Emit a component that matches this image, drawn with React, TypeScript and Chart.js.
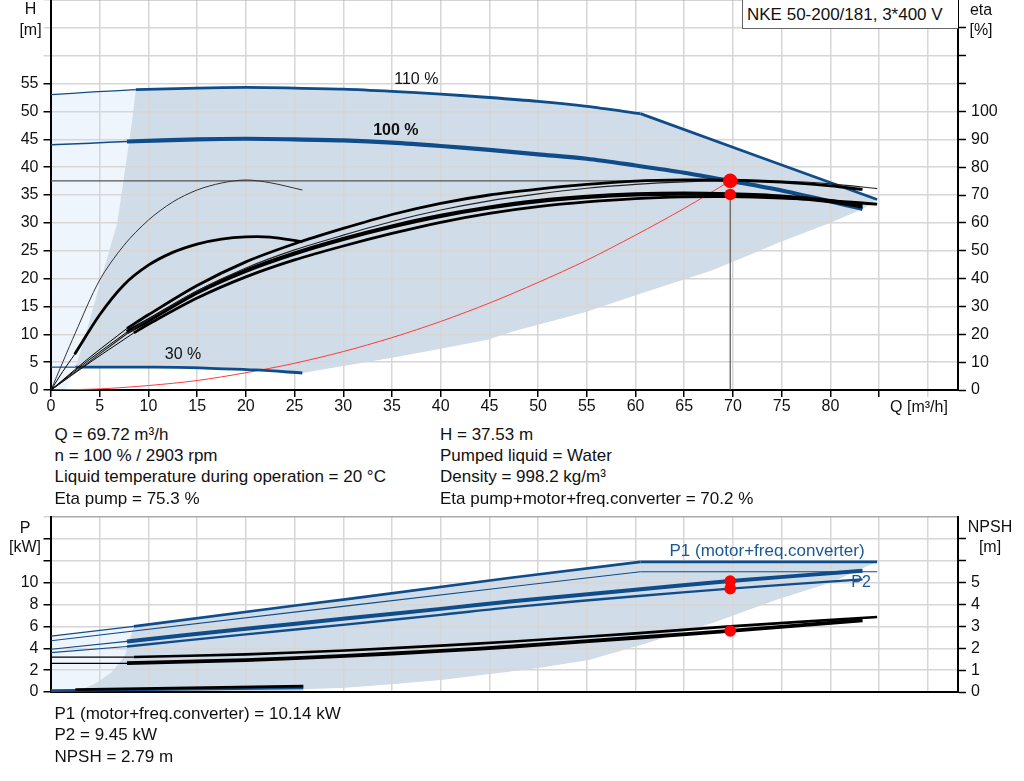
import React, { useEffect, useRef } from 'react';
import { Chart, registerables } from 'chart.js';

Chart.register(...registerables);

const FONT = "'Liberation Sans', Arial, Helvetica, sans-serif";
const BLUE = '#0f4c8a';
const TXT_BLUE = '#1a5793';
const GRID = '#d6d6d6';
const EDGE = '#a9a9a9';
const FILL_DARK = '#d0dce8';
const FILL_LIGHT = '#eef5fc';
const OP_LINE = '#555555';
const RED = '#ff0000';

// ---------- axes ----------
const Q_MAX = 93.1;
const Q_TICKS = [0, 5, 10, 15, 20, 25, 30, 35, 40, 45, 50, 55, 60, 65, 70, 75, 80, 85, 90];
const H_TICKS = [0, 5, 10, 15, 20, 25, 30, 35, 40, 45, 50, 55, 60, 65, 70];
const ETA_TICKS = [0, 10, 20, 30, 40, 50, 60, 70, 80, 90, 100, 110, 120, 130];
const P_TICKS = [0, 2, 4, 6, 8, 10, 12, 14, 16];
const NPSH_TICKS = [0, 1, 2, 3, 4, 5, 6, 7];

// ---------- operating point ----------
const OP_Q = 69.72;
const OP_H = 37.53;
const OP_ETA_TOT = 70.2;
const OP_P1 = 10.14;
const OP_P2 = 9.45;
const OP_NPSH = 2.79;

// ---------- head curves (Q m³/h, H m) ----------
const Q_H110_THIN = [0, 4.3, 8.7];
const H_H110_THIN = [53.0, 53.5, 53.9];
const Q_H110 = [8.7, 15, 20, 25, 30, 35, 40, 45, 50, 55, 60.5];
const H_H110 = [53.9, 54.2, 54.3, 54.2, 54.0, 53.6, 53.1, 52.5, 51.8, 50.9, 49.6];
const Q_PMAX = [60.5, 72.6, 84.8];
const H_PMAX = [49.6, 41.9, 34.2];
const Q_H100_THIN = [0, 4, 7.8];
const H_H100_THIN = [44.0, 44.3, 44.6];
const Q_H100 = [7.8, 15, 20, 25, 30, 35, 40, 45, 50, 55, 60, 65, 69.72, 75, 83.3];
const H_H100 = [44.6, 45.0, 45.1, 45.0, 44.8, 44.4, 43.8, 43.1, 42.3, 41.5, 40.3, 39.0, 37.53, 35.8, 32.5];
const Q_H30_THIN = [0, 2.5];
const H_H30_THIN = [4.1, 4.1];
const Q_H30 = [2.5, 8, 13, 17, 21, 25.8];
const H_H30 = [4.1, 4.1, 4.05, 3.85, 3.6, 3.05];

// system curve
const Q_SYS = [0, 5, 10, 15, 20, 25, 30, 35, 40, 45, 50, 55, 60, 65, 69.72];
const H_SYS = [0, 0.2, 0.8, 1.7, 3.1, 4.8, 6.9, 9.4, 12.3, 15.6, 19.3, 23.3, 27.8, 32.6, 37.53];

// operating range boundaries (head chart)
const Q_RANGE_LEFT = [2.5, 3.5, 5.4, 6.8, 7.8, 8.3, 8.7];
const H_RANGE_LEFT = [4.1, 9.6, 21.5, 30, 42, 48, 53.9];
const Q_RANGE_LOW = [83.3, 80, 74.8, 67.9, 60, 54.9, 47.4, 44.8, 40, 35, 30, 25.8];
const H_RANGE_LOW = [32.5, 30, 26.5, 21.5, 17, 14, 10.5, 9.0, 7.4, 5.8, 4.3, 3.05];

// ---------- efficiency curves (Q m³/h, eta %) ----------
const Q_ETA_P30 = [0, 2.5, 5, 7.5, 10, 12.5, 15, 17.5, 20, 22.5, 25.8];
const ETA_P30 = [0, 20.5, 39.5, 52, 61, 67.5, 71.8, 74.3, 75.4, 74.4, 71.8];
const Q_ETA_T30_THIN = [0, 1.2, 2.43];
const ETA_T30_THIN = [0, 6.6, 12.8];
const Q_ETA_T30 = [2.43, 5, 7.5, 10, 12.5, 15, 17.5, 20, 22.5, 25.8];
const ETA_T30 = [12.8, 27, 37.8, 44.8, 49.4, 52.4, 54.2, 55, 54.9, 53.2];

const Q_ETA_P100_THIN = [0, 3.9, 7.8];
const ETA_P100_THIN = [0, 11.5, 22.1];
const Q_ETA_P100 = [7.8, 10, 15, 20, 25, 30, 35, 40, 45, 50, 55, 60, 65, 69.72, 75, 80, 83.3];
const ETA_P100 = [22.1, 27, 37.5, 46, 52.5, 58, 63, 67, 70, 72.1, 73.8, 75.0, 75.4, 75.3, 74.6, 73.3, 72.0];

const Q_ETA_P110 = [0, 4.25, 8.5, 10, 15, 20, 25, 30, 35, 40, 45, 50, 55, 60, 65, 69.72, 75, 80, 84.8];
const ETA_P110 = [0, 11, 22, 25.3, 35.5, 43.8, 50.3, 55.6, 60.5, 64.6, 67.9, 70.4, 72.4, 73.8, 74.7, 75.1, 75.0, 74.0, 72.3];

const Q_ETA_T100_THIN = [0, 3.9, 7.8];
const ETA_T100_THIN = [0, 10.8, 20.8];
const Q_ETA_T100 = [7.8, 10, 15, 20, 25, 30, 35, 40, 45, 50, 55, 60, 65, 69.72, 75, 80, 83.3];
const ETA_T100 = [20.8, 25, 35, 42.8, 49, 54.2, 58.7, 62.5, 65.5, 67.8, 69.3, 70.2, 70.5, 70.2, 69.4, 67.8, 65.9];

const Q_ETA_T110_THIN = [0, 4.25, 8.5];
const ETA_T110_THIN = [0, 10.5, 20.5];
const Q_ETA_T110 = [8.5, 10, 15, 20, 25, 30, 35, 40, 45, 50, 55, 60, 65, 69.72, 75, 80, 84.8];
const ETA_T110 = [20.5, 23.6, 33, 40.6, 46.7, 51.7, 56.2, 60.2, 63.4, 65.8, 67.5, 68.7, 69.3, 69.4, 68.9, 68.0, 66.7];

// ---------- power curves (Q m³/h, P kW) ----------
const Q_P1_110_THIN = [0, 8.5];
const P1_110_THIN = [5.1, 6.0];
const Q_P1_110 = [8.5, 25.1, 30.2, 47.4, 60.5];
const P1_110 = [6.0, 7.91, 8.47, 10.47, 11.9];
const Q_P1_MAX = [60.5, 84.8];
const P1_MAX = [11.9, 11.9];
const Q_P2_110 = [0, 30.2, 47.4, 60.5];
const P2_110 = [4.68, 7.85, 9.64, 11.0];
const Q_P2_MAX = [60.5, 84.8];
const P2_MAX = [11.0, 11.0];
const Q_P1_100_THIN = [0, 7.8];
const P1_100_THIN = [3.91, 4.62];
const Q_P1_100 = [7.8, 20, 30.2, 40, 47.4, 60, 69.72, 83.3];
const P1_100 = [4.62, 5.78, 6.71, 7.6, 8.3, 9.35, 10.14, 11.08];
const Q_P2_100_THIN = [0, 7.8];
const P2_100_THIN = [3.6, 4.16];
const Q_P2_100 = [7.8, 20, 30.2, 40, 47.4, 60, 69.72, 83.3];
const P2_100 = [4.16, 5.27, 6.16, 7.05, 7.76, 8.75, 9.45, 10.3];
const Q_P1_30 = [0, 2.5, 25.9];
const P1_30 = [0.12, 0.15, 0.38];

// NPSH curves (Q m³/h, NPSH m)
const Q_NPSH110_THIN = [0, 8.5];
const NPSH110_THIN = [1.59, 1.59];
const Q_NPSH110 = [8.5, 20, 30.2, 40, 47.4, 60, 69.72, 84.8];
const NPSH110 = [1.6, 1.72, 1.9, 2.12, 2.31, 2.68, 3.0, 3.43];
const Q_NPSH100_THIN = [0, 7.8];
const NPSH100_THIN = [1.31, 1.31];
const Q_NPSH100 = [7.8, 20, 30.2, 40, 47.4, 60, 69.72, 83.3];
const NPSH100 = [1.32, 1.46, 1.65, 1.88, 2.08, 2.48, 2.79, 3.28];
const Q_NPSH30 = [2.5, 25.9];
const NPSH30 = [0.11, 0.27];

// operating range boundaries (power chart)
const Q_PRANGE_LEFT = [2.5, 4.55, 6.25, 7.6, 8.1, 8.5];
const P_PRANGE_LEFT = [0, 0.77, 1.83, 3.37, 4.9, 6.0];
const Q_PRANGE_LOW = [80, 74.7, 67.9, 60, 55.2, 50, 47.4, 40, 35, 30.2, 25.9, 25.9];
const P_PRANGE_LOW = [10.0, 8.5, 6.3, 4.15, 2.93, 2.2, 1.9, 1.1, 0.7, 0.4, 0.25, 0];

// ---------- in-plot labels ----------
const TOP_LABELS = [
  { text: '110 %', q: 37.5, v: 55.7, axis: 'y', bold: false, size: 16, color: '#111' },
  { text: '100 %', q: 35.4, v: 46.5, axis: 'y', bold: true, size: 16, color: '#111' },
  { text: '30 %', q: 13.55, v: 6.3, axis: 'y', bold: false, size: 16, color: '#111' },
];
const BOTTOM_LABELS = [
  { text: 'P1 (motor+freq.converter)', q: 73.5, v: 12.85, axis: 'y', bold: false, size: 17, color: TXT_BLUE },
  { text: 'P2', q: 83.15, v: 10.0, axis: 'y', bold: false, size: 16, color: TXT_BLUE },
];

const INFO_LEFT = ['Q = 69.72 m³/h', 'n = 100 % / 2903 rpm', 'Liquid temperature during operation = 20 °C', 'Eta pump = 75.3 %'];
const INFO_RIGHT = ['H = 37.53 m', 'Pumped liquid = Water', 'Density = 998.2 kg/m³', 'Eta pump+motor+freq.converter = 70.2 %'];
const INFO_BOTTOM = ['P1 (motor+freq.converter) = 10.14 kW', 'P2 = 9.45 kW', 'NPSH = 2.79 m'];
const TITLE = 'NKE 50-200/181, 3*400 V';

// ---------- helpers ----------
const pts = (xs: number[], ys: number[]) => xs.map((x, i) => ({ x, y: ys[i] }));
const rev = <T,>(a: T[]) => a.slice().reverse();

function curve(xs: number[], ys: number[], color: string, width: number, axis = 'y', smooth = true) {
  return {
    data: pts(xs, ys),
    yAxisID: axis,
    borderColor: color,
    borderWidth: width,
    pointRadius: 0,
    pointHoverRadius: 0,
    fill: false,
    tension: smooth ? 0.3 : 0,
    borderCapStyle: 'butt',
  };
}

function area(xs: number[], ys: number[], color: string, axis = 'y') {
  return {
    data: pts(xs, ys),
    yAxisID: axis,
    borderColor: 'transparent',
    borderWidth: 0,
    backgroundColor: color,
    pointRadius: 0,
    pointHoverRadius: 0,
    fill: 'shape',
    tension: 0,
  };
}

function dot(q: number, v: number, r: number, axis = 'y') {
  return {
    data: [{ x: q, y: v }],
    yAxisID: axis,
    showLine: false,
    pointRadius: r,
    pointHoverRadius: r,
    pointBackgroundColor: RED,
    pointBorderColor: RED,
    pointBorderWidth: 0,
    borderColor: RED,
  };
}

function labelsPlugin(labels: any[]) {
  return {
    id: 'inlineLabels',
    afterDatasetsDraw(chart: any) {
      const { ctx, scales } = chart;
      ctx.save();
      for (const l of labels) {
        ctx.font = `${l.bold ? 'bold ' : ''}${l.size}px ${FONT}`;
        ctx.fillStyle = l.color;
        ctx.textAlign = 'center';
        ctx.textBaseline = 'middle';
        ctx.fillText(l.text, scales.x.getPixelForValue(l.q), scales[l.axis].getPixelForValue(l.v));
      }
      ctx.restore();
    },
  };
}

function withOrder(list: any[]) {
  return list.map((d, i) => ({ ...d, order: list.length - i }));
}

function xAxis(showLabels: boolean, height: number) {
  return {
    type: 'linear',
    min: 0,
    max: Q_MAX,
    afterBuildTicks: (s: any) => { s.ticks = Q_TICKS.map((v) => ({ value: v })); },
    afterFit: (s: any) => { s.height = height; s.paddingLeft = 0; s.paddingRight = 0; },
    grid: {
      color: GRID,
      lineWidth: 1.5,
      drawTicks: showLabels,
      tickLength: 7,
      tickWidth: 1.5,
      tickColor: (c: any) => (c.tick && c.tick.value >= 90 ? GRID : '#000'),
    },
    border: { display: true, color: '#000', width: 2 },
    ticks: {
      display: showLabels,
      autoSkip: false,
      maxRotation: 0,
      padding: 0,
      color: '#111',
      font: { size: 16, family: FONT },
      callback: (v: number) => (v <= 80 ? String(v) : ''),
    },
  };
}

function leftAxis(max: number, ticks: number[], labelMax: number, blackMax: number) {
  return {
    type: 'linear',
    position: 'left',
    min: 0,
    max,
    afterBuildTicks: (s: any) => { s.ticks = ticks.map((v) => ({ value: v })); },
    afterFit: (s: any) => { s.width = 51; s.paddingTop = 0; s.paddingBottom = 0; },
    grid: {
      color: (c: any) => (c.tick && c.tick.value >= max ? EDGE : GRID),
      lineWidth: 1.5,
      tickLength: 7.5,
      tickWidth: 1.5,
      tickColor: (c: any) => (c.tick && c.tick.value > blackMax ? GRID : '#000'),
    },
    border: { display: true, color: '#000', width: 2 },
    ticks: {
      autoSkip: false,
      padding: 5,
      color: '#111',
      font: { size: 16, family: FONT },
      callback: (v: number) => (v <= labelMax ? String(v) : ''),
    },
  };
}

function rightAxis(max: number, ticks: number[], labelMax: number) {
  return {
    type: 'linear',
    position: 'right',
    min: 0,
    max,
    afterBuildTicks: (s: any) => { s.ticks = ticks.map((v) => ({ value: v })); },
    afterFit: (s: any) => { s.width = 66; s.paddingTop = 0; s.paddingBottom = 0; },
    grid: {
      drawOnChartArea: false,
      tickLength: 8,
      tickWidth: 1.5,
      tickColor: '#000',
    },
    border: { display: true, color: '#000', width: 2 },
    ticks: {
      autoSkip: false,
      padding: 5,
      color: '#111',
      font: { size: 16, family: FONT },
      callback: (v: number) => (v <= labelMax ? String(v) : ''),
    },
  };
}

const commonOptions = {
  responsive: false,
  animation: false,
  events: [],
  plugins: {
    legend: { display: false },
    tooltip: { enabled: false },
    filler: { propagate: false, drawTime: 'beforeDraw' },
  },
  elements: { point: { radius: 0 } },
};

function topDatasets() {
  const grayQ = [...Q_H110, ...Q_PMAX.slice(1), ...Q_RANGE_LOW, ...rev(Q_H30).slice(1), ...Q_RANGE_LEFT.slice(1)];
  const grayH = [...H_H110, ...H_PMAX.slice(1), ...H_RANGE_LOW, ...rev(H_H30).slice(1), ...H_RANGE_LEFT.slice(1)];
  const lightQ = [...Q_H110_THIN, ...rev(Q_RANGE_LEFT).slice(1), 1.5, 0];
  const lightH = [...H_H110_THIN, ...rev(H_RANGE_LEFT).slice(1), 0, 0];
  const list = [
    area(lightQ, lightH, FILL_LIGHT),
    area(grayQ, grayH, FILL_DARK),
    curve(Q_SYS, H_SYS, '#ff3b3b', 1),
    curve([0, OP_Q], [OP_H, OP_H], OP_LINE, 1.2, 'y', false),
    curve([OP_Q, OP_Q], [OP_ETA_TOT, 0], OP_LINE, 1.2, 'eta', false),
    curve(Q_H30_THIN, H_H30_THIN, BLUE, 1.2),
    curve(Q_H30, H_H30, BLUE, 2.8),
    curve(Q_H110_THIN, H_H110_THIN, BLUE, 1.2),
    curve(Q_H110, H_H110, BLUE, 2.8),
    curve(Q_PMAX, H_PMAX, BLUE, 2.8, 'y', false),
    curve(Q_H100_THIN, H_H100_THIN, BLUE, 1.5),
    curve(Q_H100, H_H100, BLUE, 4.2),
    curve(Q_ETA_P30, ETA_P30, '#333', 1, 'eta'),
    curve(Q_ETA_T30_THIN, ETA_T30_THIN, '#000', 1, 'eta'),
    curve(Q_ETA_T30, ETA_T30, '#000', 2.8, 'eta'),
    curve(Q_ETA_T110_THIN, ETA_T110_THIN, '#000', 1, 'eta'),
    curve(Q_ETA_T110, ETA_T110, '#000', 2.8, 'eta'),
    curve(Q_ETA_T100_THIN, ETA_T100_THIN, '#000', 1, 'eta'),
    curve(Q_ETA_T100, ETA_T100, '#000', 4.2, 'eta'),
    curve(Q_ETA_P110, ETA_P110, '#222', 1.1, 'eta'),
    curve(Q_ETA_P100_THIN, ETA_P100_THIN, '#000', 1, 'eta'),
    curve(Q_ETA_P100, ETA_P100, '#000', 2.8, 'eta'),
    dot(OP_Q, OP_ETA_TOT, 5.8, 'eta'),
    dot(OP_Q, OP_H, 7.3, 'y'),
  ];
  return withOrder(list);
}

function bottomDatasets() {
  const grayQ = [...Q_P1_110, ...Q_P1_MAX.slice(1), ...Q_PRANGE_LOW, ...Q_PRANGE_LEFT];
  const grayP = [...P1_110, ...P1_MAX.slice(1), ...P_PRANGE_LOW, ...P_PRANGE_LEFT];
  const lightQ = [...Q_P1_110_THIN, ...rev(Q_PRANGE_LEFT).slice(1), 0];
  const lightP = [...P1_110_THIN, ...rev(P_PRANGE_LEFT).slice(1), 0];
  const list = [
    area(lightQ, lightP, FILL_LIGHT),
    area(grayQ, grayP, FILL_DARK),
    curve(Q_P1_30, P1_30, BLUE, 2.8, 'y', false),
    curve(Q_NPSH30, NPSH30, '#000', 2.8, 'npsh', false),
    curve(Q_NPSH110_THIN, NPSH110_THIN, '#000', 1.2, 'npsh', false),
    curve(Q_NPSH110, NPSH110, '#000', 2.6, 'npsh'),
    curve(Q_NPSH100_THIN, NPSH100_THIN, '#000', 1.2, 'npsh', false),
    curve(Q_NPSH100, NPSH100, '#000', 3.8, 'npsh'),
    curve(Q_P2_110, P2_110, BLUE, 1.1, 'y', false),
    curve(Q_P2_MAX, P2_MAX, BLUE, 1.1, 'y', false),
    curve(Q_P1_110_THIN, P1_110_THIN, BLUE, 1.2, 'y', false),
    curve(Q_P1_110, P1_110, BLUE, 2.6, 'y', false),
    curve(Q_P1_MAX, P1_MAX, BLUE, 2.6, 'y', false),
    curve(Q_P2_100_THIN, P2_100_THIN, BLUE, 1.2, 'y', false),
    curve(Q_P2_100, P2_100, BLUE, 2.4, 'y'),
    curve(Q_P1_100_THIN, P1_100_THIN, BLUE, 1.2, 'y', false),
    curve(Q_P1_100, P1_100, BLUE, 4.0, 'y'),
    dot(OP_Q, OP_NPSH, 5.8, 'npsh'),
    dot(OP_Q, OP_P2, 5.8, 'y'),
    dot(OP_Q, OP_P1, 5.8, 'y'),
  ];
  return withOrder(list);
}

const Txt = ({ x, y, children, size = 16, align = 'center' }: any) => (
  <div
    style={{
      position: 'absolute',
      left: x,
      top: y,
      transform: align === 'center' ? 'translate(-50%, -50%)' : 'translate(0, -50%)',
      font: `${size}px ${FONT}`,
      lineHeight: 1,
      whiteSpace: 'nowrap',
      color: '#111',
    }}
  >
    {children}
  </div>
);

export default function App() {
  const topRef = useRef<HTMLCanvasElement>(null);
  const botRef = useRef<HTMLCanvasElement>(null);

  useEffect(() => {
    const top = new Chart(topRef.current as HTMLCanvasElement, {
      type: 'line',
      data: { datasets: topDatasets() as any },
      options: {
        ...(commonOptions as any),
        layout: { padding: 0, autoPadding: false },
        scales: {
          x: xAxis(true, 30) as any,
          y: leftAxis(70, H_TICKS, 55, 55) as any,
          eta: rightAxis(140, ETA_TICKS, 100) as any,
        },
      },
      plugins: [labelsPlugin(TOP_LABELS)],
    });
    const bot = new Chart(botRef.current as HTMLCanvasElement, {
      type: 'line',
      data: { datasets: bottomDatasets() as any },
      options: {
        ...(commonOptions as any),
        layout: { padding: { top: 12, left: 0, right: 0, bottom: 0 }, autoPadding: false },
        scales: {
          x: xAxis(false, 13) as any,
          y: leftAxis(16, P_TICKS, 10, 14) as any,
          npsh: rightAxis(8, NPSH_TICKS, 5) as any,
        },
      },
      plugins: [labelsPlugin(BOTTOM_LABELS)],
    });
    return () => {
      top.destroy();
      bot.destroy();
    };
  }, []);

  const leftRows = [433.5, 454.8, 476.2, 497.8];
  const botRows = [713.3, 733.8, 755.8];

  return (
    <div style={{ position: 'absolute', left: 0, top: 0, width: 1024, height: 781, background: '#fff', overflow: 'hidden' }}>
      <canvas ref={topRef} width={1024} height={420} style={{ position: 'absolute', left: 0, top: 0, width: 1024, height: 420 }} />
      <canvas ref={botRef} width={1024} height={200} style={{ position: 'absolute', left: 0, top: 505, width: 1024, height: 200 }} />

      <div
        style={{
          position: 'absolute', left: 742, top: -1, width: 215, height: 28,
          borderLeft: '1px solid #666', borderBottom: '1px solid #666', borderTop: '1px solid #666',
          background: '#fff',
        }}
      />
      <Txt x={747} y={13.5} size={17} align="left">{TITLE}</Txt>

      <Txt x={30.5} y={9}>H</Txt>
      <Txt x={30.5} y={30}>[m]</Txt>
      <Txt x={981} y={10}>eta</Txt>
      <Txt x={981} y={30}>[%]</Txt>
      <Txt x={919} y={407}>Q [m³/h]</Txt>
      <Txt x={25} y={528}>P</Txt>
      <Txt x={25} y={546.5}>[kW]</Txt>
      <Txt x={990} y={527}>NPSH</Txt>
      <Txt x={990} y={547}>[m]</Txt>

      {INFO_LEFT.map((t, i) => (
        <Txt key={'l' + i} x={54.5} y={leftRows[i]} size={17} align="left">{t}</Txt>
      ))}
      {INFO_RIGHT.map((t, i) => (
        <Txt key={'r' + i} x={440} y={leftRows[i]} size={17} align="left">{t}</Txt>
      ))}
      {INFO_BOTTOM.map((t, i) => (
        <Txt key={'b' + i} x={54.5} y={botRows[i]} size={17} align="left">{t}</Txt>
      ))}
    </div>
  );
}
